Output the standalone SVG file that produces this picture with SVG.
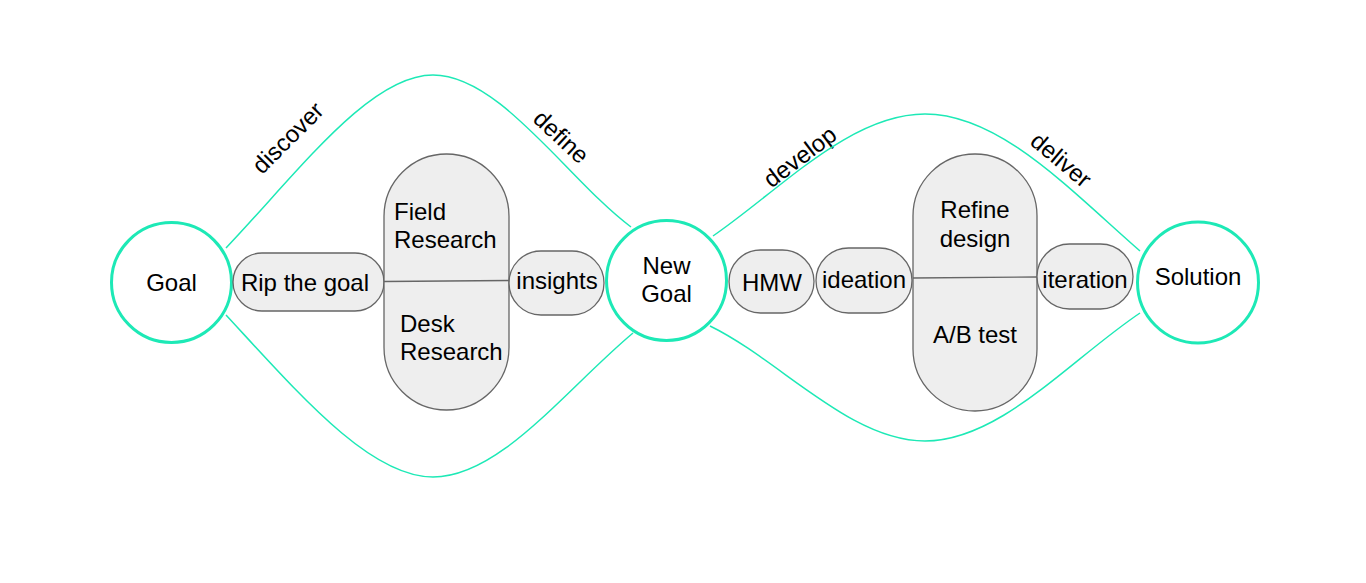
<svg xmlns="http://www.w3.org/2000/svg" width="1366" height="583" viewBox="0 0 1366 583">
<style>
  .bg { fill: #ffffff; }
  .hub { fill: #ffffff; stroke: #1de9b6; stroke-width: 3; }
  .pill { fill: #eeeeee; stroke: #666666; stroke-width: 1.3; }
  .arc { fill: none; stroke: #1de9b6; stroke-width: 1.5; }
  .link { fill: none; stroke: #666666; stroke-width: 1.3; }
  text { font-family: "Liberation Sans", Arial, sans-serif; font-size: 24px; fill: #000000; }
  .c { text-anchor: middle; }
</style>
<rect class="bg" x="0" y="0" width="1366" height="583"/>
<g id="labels">
  <text class="c" transform="translate(288,138) rotate(-45)" x="0" y="8">discover</text>
  <text class="c" transform="translate(561,137) rotate(43)" x="0" y="8">define</text>
  <text class="c" transform="translate(800,157) rotate(-37)" x="0" y="8">develop</text>
  <text class="c" transform="translate(1061,160) rotate(40)" x="0" y="8">deliver</text>
</g>
<g id="goal">
  <circle class="hub" cx="171.5" cy="282.5" r="60"/>
  <text class="c" x="171.5" y="291">Goal</text>
</g>
<g id="rip-the-goal">
  <rect class="pill" x="233" y="253" width="151" height="58" rx="29" ry="29"/>
  <text class="c" x="305" y="291">Rip the goal</text>
</g>
<g id="research">
  <rect class="pill" x="384" y="154" width="125" height="256" rx="62.5" ry="62.5"/>
  <text x="394" y="220">Field</text>
  <text x="394" y="248">Research</text>
  <text x="400" y="332">Desk</text>
  <text x="400" y="360">Research</text>
</g>
<g id="insights">
  <rect class="pill" x="509" y="251" width="95" height="64" rx="32" ry="32"/>
  <text class="c" x="557" y="289">insights</text>
</g>
<g id="new-goal">
  <circle class="hub" cx="666.5" cy="280.5" r="60"/>
  <text class="c" x="666.5" y="274">New</text>
  <text class="c" x="666.5" y="302">Goal</text>
</g>
<g id="hmw">
  <rect class="pill" x="729" y="250" width="85" height="63" rx="31.5" ry="31.5"/>
  <text class="c" x="772" y="291">HMW</text>
</g>
<g id="ideation">
  <rect class="pill" x="816" y="248" width="96" height="65" rx="32.5" ry="32.5"/>
  <text class="c" x="864" y="288">ideation</text>
</g>
<g id="refine-ab">
  <rect class="pill" x="913" y="154" width="124" height="257" rx="62" ry="62"/>
  <text class="c" x="975" y="218">Refine</text>
  <text class="c" x="975" y="247">design</text>
  <text class="c" x="975" y="343">A/B test</text>
</g>
<g id="iteration">
  <rect class="pill" x="1037" y="244" width="96" height="65" rx="32.5" ry="32.5"/>
  <text class="c" x="1085" y="288">iteration</text>
</g>
<g id="solution">
  <circle class="hub" cx="1198" cy="282.5" r="60.5"/>
  <text class="c" x="1198" y="285">Solution</text>
</g>
<g id="connectors">
  <path class="arc" d="M226,248 C300,170 370,75 433,75 C500,75 568,180 631,227"/>
  <path class="arc" d="M226,315 C300,395 370,477 433,477 C500,477 565,390 633,333"/>
  <path class="arc" d="M713,236 C780,190 850,114 925,114 C1000,114 1070,190 1140,251"/>
  <path class="arc" d="M710,326 C780,360 850,441 925,441 C1000,441 1070,360 1140,313"/>
  <line class="link" x1="384" y1="281.5" x2="509" y2="280.5"/>
  <line class="link" x1="913" y1="278" x2="1037" y2="277"/>
</g>
</svg>
